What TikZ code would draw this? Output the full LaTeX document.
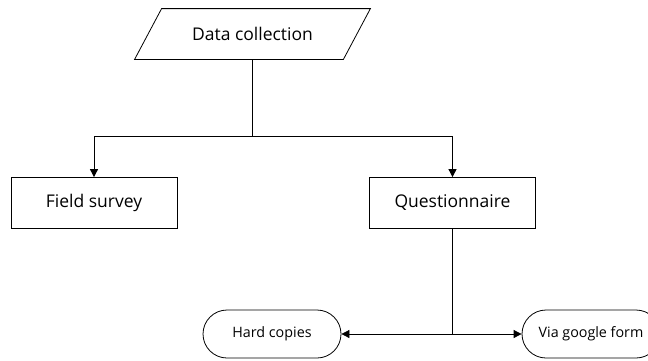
\documentclass[tikz,border=0pt]{standalone}
\usepackage{fontspec}
\setmainfont{Open Sans}
\usetikzlibrary{arrows.meta}
\begin{document}
\begin{tikzpicture}[x=1pt,y=-1pt,
  line width=0.8pt,
  txt/.style={inner sep=0pt, font=\fontsize{17.5}{20}\selectfont},
  boxnode/.style={draw, minimum width=166pt, minimum height=51pt, inner sep=0pt, font=\fontsize{17.5}{20}\selectfont},
  pillnode/.style={draw, rounded corners=24pt, minimum width=138pt, minimum height=48pt, inner sep=0pt, font=\fontsize{14.3}{17}\selectfont},
  arr/.style={-{Triangle[length=8pt,width=8pt]}},
  darr/.style={{Triangle[length=8pt,width=8pt]}-{Triangle[length=8pt,width=8pt]}}
]
\useasboundingbox (0,0) rectangle (648,360);
\begin{scope}
\clip (0,0) rectangle (648,360);
% parallelogram
\node[txt, minimum width=208pt, minimum height=50pt] (dc) at (252.5,34) {Data collection};
\draw ([xshift=13.5pt]dc.north west) -- ([xshift=13.5pt]dc.north east) -- ([xshift=-13.5pt]dc.south east) -- ([xshift=-13.5pt]dc.south west) -- cycle;
\node[boxnode] (fs) at (94,203) {Field survey};
\node[boxnode] (q) at (452.5,203) {Questionnaire};
\node[pillnode] (hc) at (272,334) {Hard copies};
\node[pillnode] (vg) at (591,334) {Via google form};
\coordinate (j1) at (dc.south |- 0,136);
\coordinate (j2) at (q.south |- 0,334);
\draw (dc.south) -- (j1);
\draw[arr] (j1) -| (fs.north);
\draw[arr] (j1) -| (q.north);
\draw (q.south) -- (j2);
\draw[darr] (hc.east) -- (vg.west);
\end{scope}
\end{tikzpicture}
\end{document}
